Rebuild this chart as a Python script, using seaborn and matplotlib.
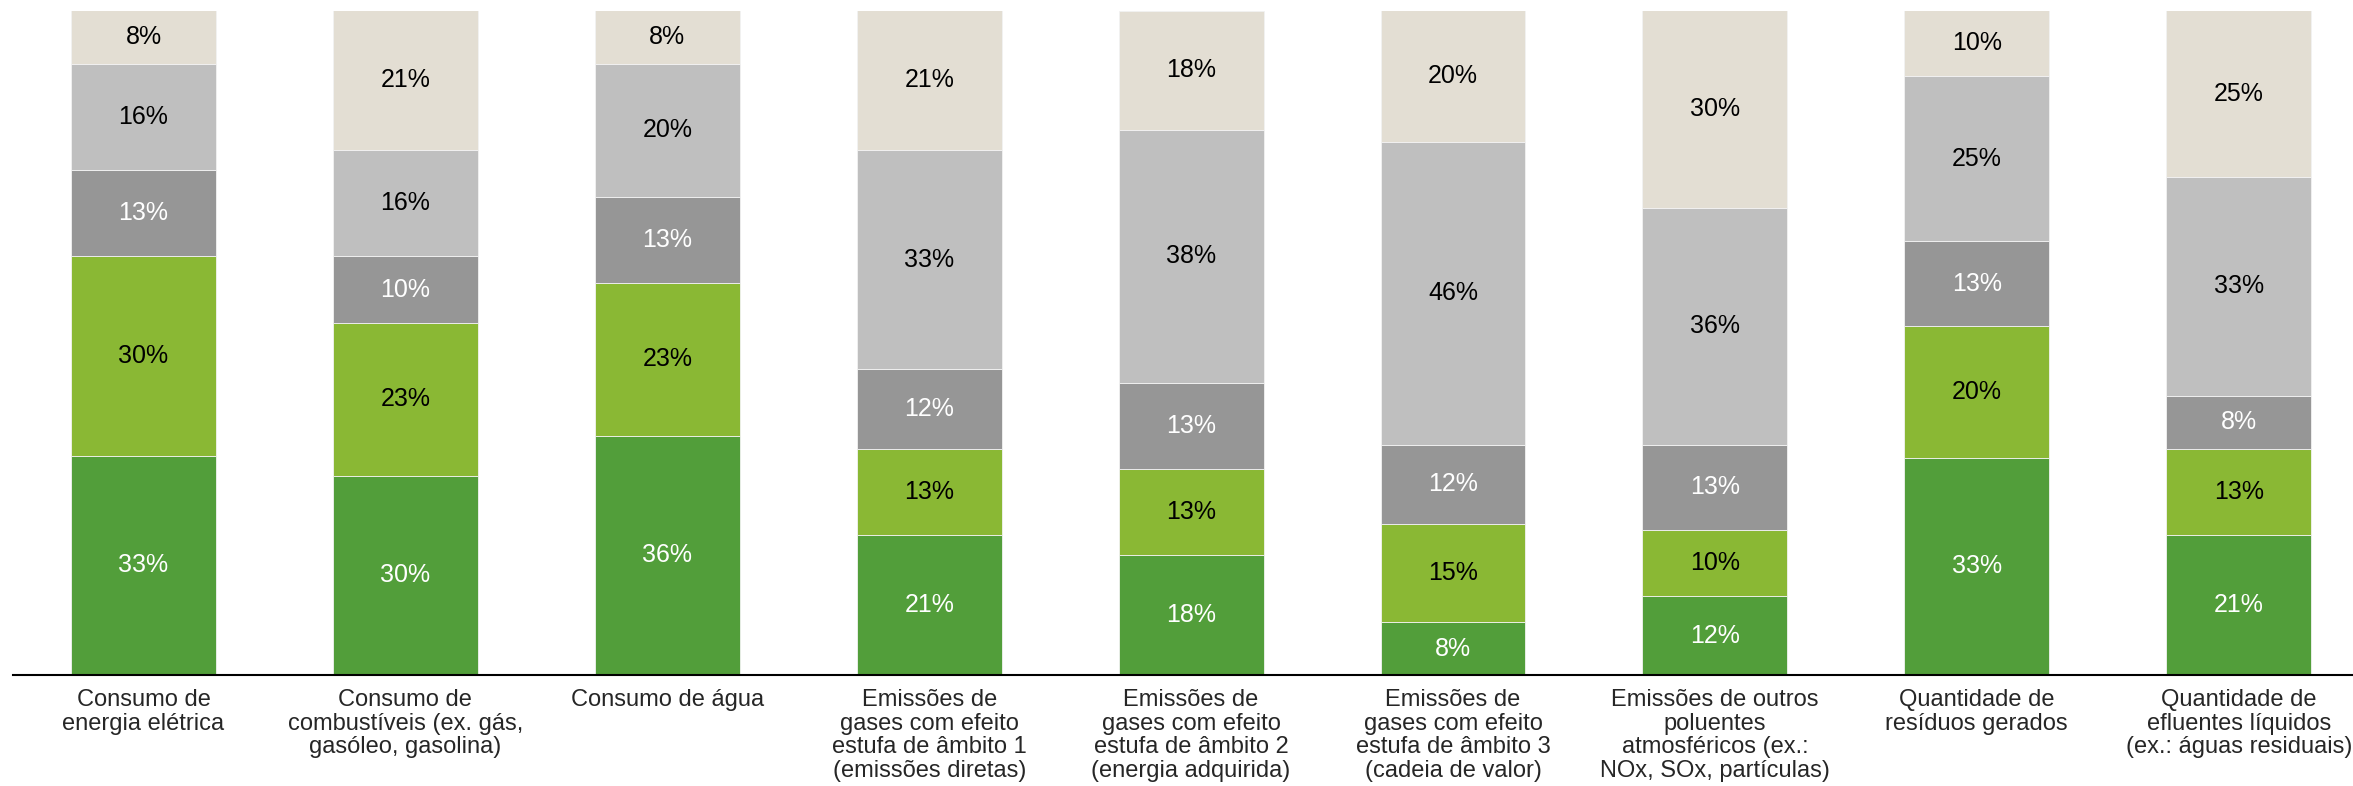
import numpy as np
import pandas as pd
import seaborn as sns
import matplotlib.pyplot as plt

# Categories (x axis labels, wrapped as in the original)
categories = [
    "Consumo de\nenergia elétrica",
    "Consumo de\ncombustíveis (ex. gás,\ngasóleo, gasolina)",
    "Consumo de água",
    "Emissões de\ngases com efeito\nestufa de âmbito 1\n(emissões diretas)",
    "Emissões de\ngases com efeito\nestufa de âmbito 2\n(energia adquirida)",
    "Emissões de\ngases com efeito\nestufa de âmbito 3\n(cadeia de valor)",
    "Emissões de outros\npoluentes\natmosféricos (ex.:\nNOx, SOx, partículas)",
    "Quantidade de\nresíduos gerados",
    "Quantidade de\nefluentes líquidos\n(ex.: águas residuais)",
]

# Segment values in %, bottom to top
seg1 = [33, 30, 36, 21, 18, 8, 12, 33, 21]
seg2 = [30, 23, 23, 13, 13, 15, 10, 20, 13]
seg3 = [13, 10, 13, 12, 13, 12, 13, 13, 8]
seg4 = [16, 16, 20, 33, 38, 46, 36, 25, 33]
seg5 = [8, 21, 8, 21, 18, 20, 30, 10, 25]

segments = [seg1, seg2, seg3, seg4, seg5]
seg_colors = ["#529E3A", "#8AB834", "#969696", "#BFBFBF", "#E3DED3"]
text_colors = ["white", "black", "white", "black", "black"]

sns.set_style("white")
plt.rcParams['font.family'] = ['Liberation Sans', 'DejaVu Sans']

W, H = 2353, 786
fig = plt.figure(figsize=(W / 100, H / 100), dpi=100)
ax = fig.add_axes([13 / W, (H - 675) / H, (W - 13) / W, (675 - 10.5) / H])

vals = np.array(segments, dtype=float)
totals = vals.sum(axis=0)
shares = vals / totals * 100  # stacked to 100%

xpos = np.arange(len(categories))
bottom = np.zeros(len(categories))
for i in range(len(segments)):
    df = pd.DataFrame({"cat": categories, "val": shares[i]})
    sns.barplot(data=df, x="cat", y="val", order=categories, bottom=bottom,
                color=seg_colors[i], saturation=1, width=0.553,
                edgecolor="#F2F2F2", linewidth=0.6, ax=ax)
    for x, b, h, v in zip(xpos, bottom, shares[i], segments[i]):
        ax.text(x, b + h / 2, f"{v}%", ha="center", va="center",
                fontsize=18, color=text_colors[i])
    bottom = bottom + shares[i]

ax.set_xlim((13 - 143.5) / 261.9, (W - 143.5) / 261.9)
ax.set_ylim(0, 100)
ax.set_xlabel("")
ax.set_ylabel("")
ax.set_yticks([])
ax.set_xticks(xpos)
ax.set_xticklabels(categories, fontsize=17, linespacing=1.1)
ax.tick_params(axis="x", length=0, pad=10)
for s in ["top", "left", "right"]:
    ax.spines[s].set_visible(False)
ax.spines["bottom"].set_color("black")
ax.spines["bottom"].set_linewidth(1.5)

fig.savefig("out.png", dpi=100)
